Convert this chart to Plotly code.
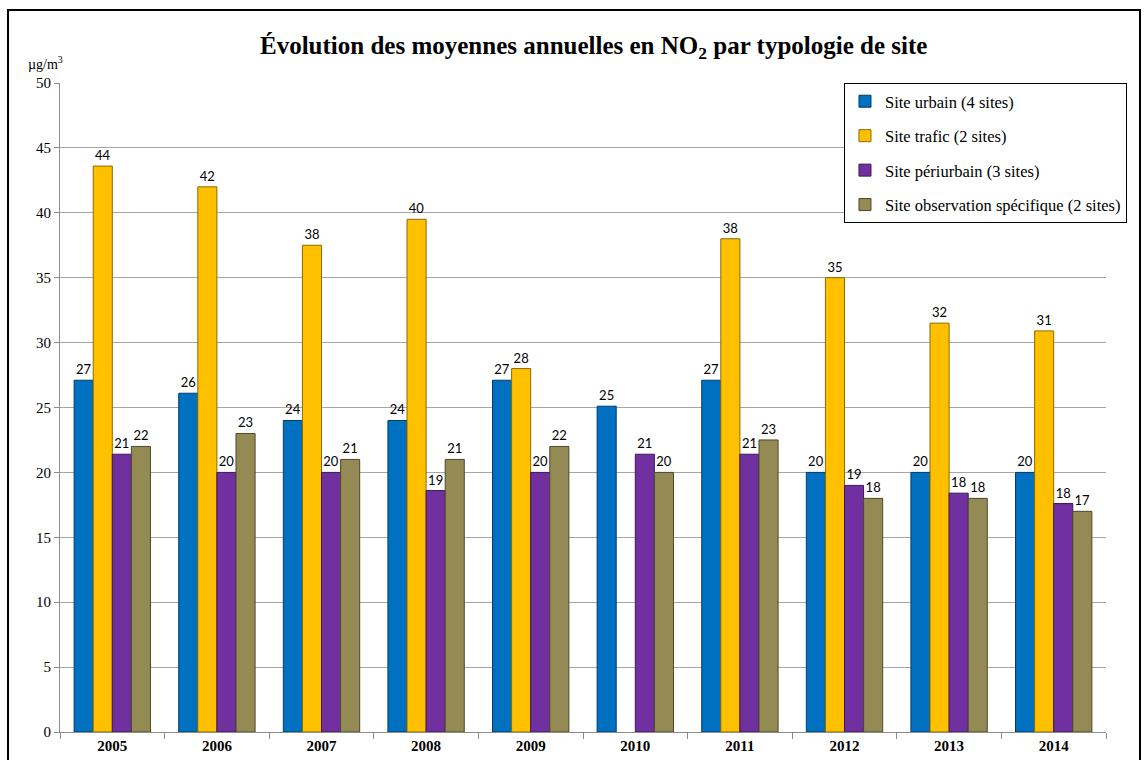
import plotly.graph_objects as go

# Annual mean NO2 concentrations (µg/m³) by site type
years = ["2005", "2006", "2007", "2008", "2009", "2010", "2011", "2012", "2013", "2014"]
urbain = [27.1, 26.1, 24.0, 24.0, 27.1, 25.1, 27.1, 20.0, 20.0, 20.0]
trafic = [43.6, 42.0, 37.5, 39.5, 28.0, None, 38.0, 35.0, 31.5, 30.9]
periurbain = [21.4, 20.0, 20.0, 18.6, 20.0, 21.4, 21.4, 19.0, 18.4, 17.6]
observation = [22.0, 23.0, 21.0, 21.0, 22.0, 20.0, 22.5, 18.0, 18.0, 17.0]

series_names = [
    "Site urbain (4 sites)",
    "Site trafic (2 sites)",
    "Site périurbain (3 sites)",
    "Site observation spécifique (2 sites)",
]
series_values = [urbain, trafic, periurbain, observation]
fill_colors = ["#0070C0", "#FFC000", "#7030A0", "#948A54"]
edge_colors = ["#003C6A", "#8A6A00", "#3C1858", "#4E482A"]

y_ticks = list(range(0, 51, 5))

SERIF = "Liberation Serif, Times New Roman, serif"

fig = go.Figure()
for i, (name, vals) in enumerate(zip(series_names, series_values)):
    fig.add_trace(go.Bar(
        x=years,
        y=vals,
        name=name,
        legendgroup=f"g{i}",
        marker=dict(color=fill_colors[i], line=dict(color=edge_colors[i], width=1)),
        texttemplate="%{y:.0f}",
        textposition="outside",
        textfont=dict(family="Lato, Open Sans, sans-serif", size=13, color="#000000"),
        cliponaxis=False,
    ))

fig.update_layout(
    width=1148,
    height=760,
    paper_bgcolor="#FFFFFF",
    plot_bgcolor="#FFFFFF",
    margin=dict(l=60, r=42, t=83, b=28, autoexpand=False),
    barmode="group",
    bargap=0.27,
    bargroupgap=0.0,
    showlegend=True,
    legend=dict(
        x=0.7495, y=1.0, xanchor="left", yanchor="top",
        bgcolor="#FFFFFF",
        bordercolor="#000000", borderwidth=1,
        font=dict(family=SERIF, size=16.5, color="#000000"),
        traceorder="grouped",
        tracegroupgap=10,
        itemwidth=30,
    ),
    font=dict(family=SERIF, color="#000000"),
)

fig.update_xaxes(
    type="category",
    showgrid=False,
    showline=True, linecolor="#8C8C8C", linewidth=1,
    ticks="outside", tickson="boundaries", ticklen=6, tickcolor="#8C8C8C",
    tickfont=dict(family=SERIF, size=15, color="#000000", weight="bold"),
)
fig.update_yaxes(
    range=[0, 50],
    tickvals=y_ticks,
    showgrid=True, gridcolor="#A6A6A6", gridwidth=1,
    showline=True, linecolor="#8C8C8C", linewidth=1,
    ticks="outside", ticklen=5, tickcolor="#8C8C8C",
    tickfont=dict(family=SERIF, size=15, color="#000000"),
    zeroline=False,
)

# Chart title
fig.add_annotation(
    xref="paper", yref="paper", x=0.5096, y=1.054,
    xanchor="center", yanchor="middle",
    text="<b>Évolution des moyennes annuelles en NO<sub>2</sub> par typologie de site</b>",
    showarrow=False,
    font=dict(family=SERIF, size=25, color="#000000"),
)

# Unit label above the y axis
fig.add_annotation(
    xref="paper", yref="paper", x=-0.0143, y=1.031,
    xanchor="center", yanchor="middle",
    text="µg/m<sup>3</sup>",
    showarrow=False,
    font=dict(family=SERIF, size=14, color="#000000"),
)

# Outer chart frame
fig.add_shape(
    type="rect", xref="paper", yref="paper",
    x0=-0.0497, x1=1.0325, y0=-0.08, y1=1.1125,
    line=dict(color="#000000", width=2),
    fillcolor="rgba(0,0,0,0)",
    layer="above",
)

fig.write_html("out.html")
